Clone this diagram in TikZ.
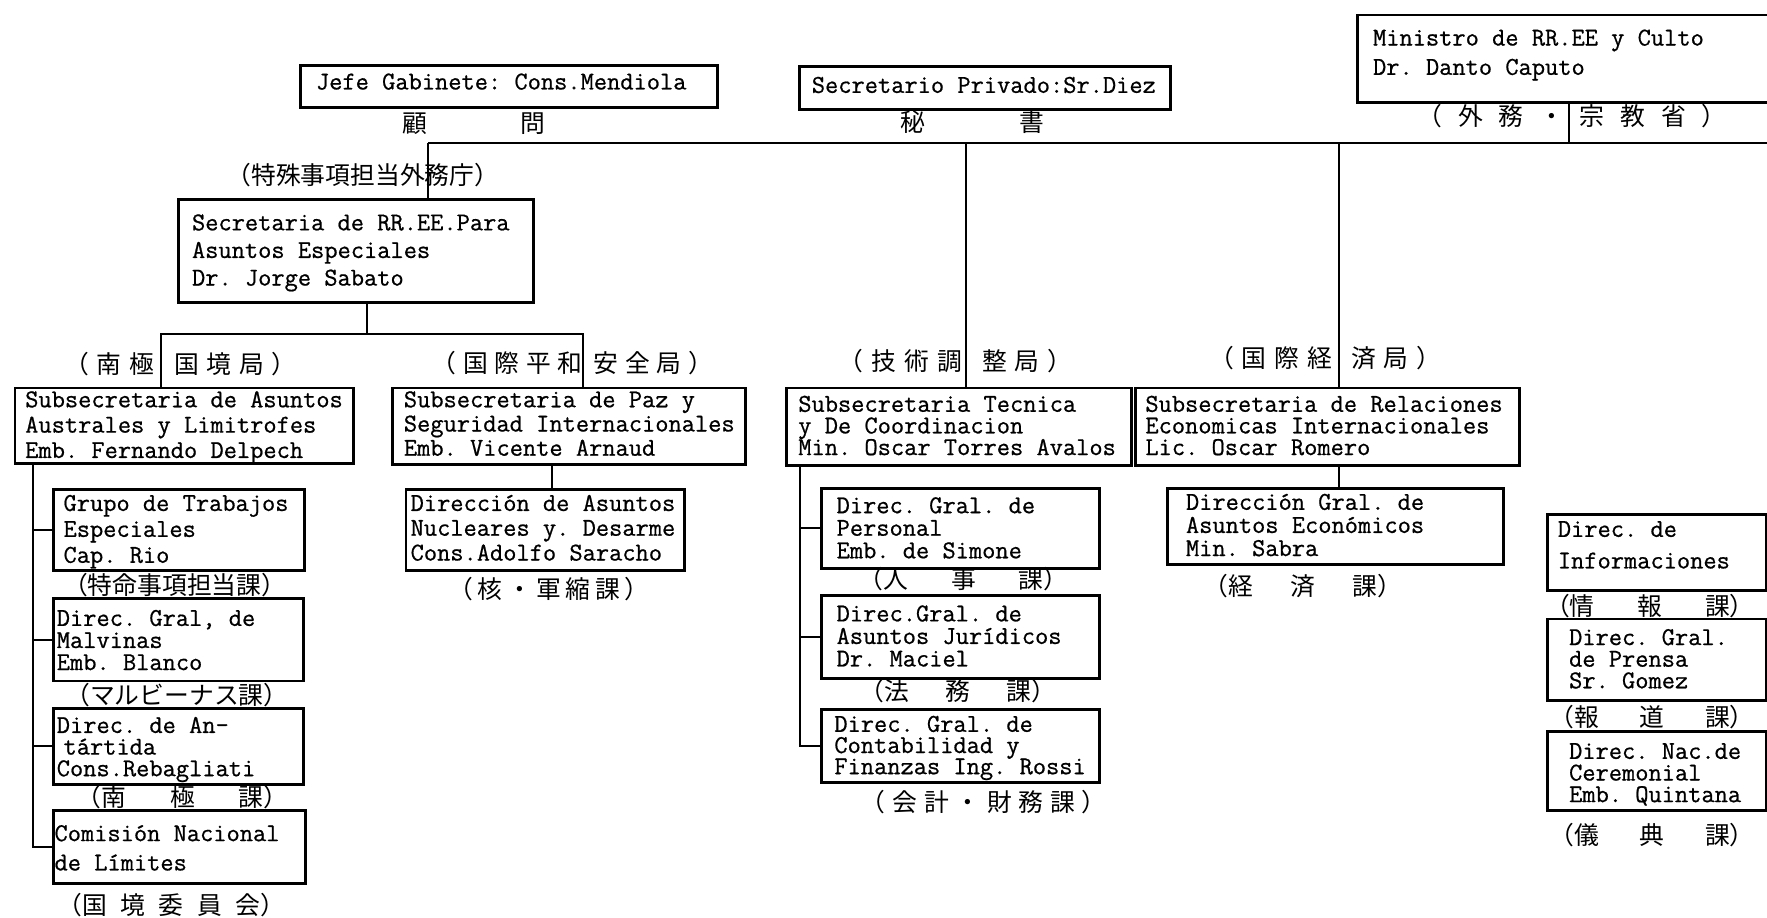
\documentclass[tikz,border=0pt]{standalone}
\usepackage{fontspec}
\newfontfamily\cjk{Noto Sans CJK JP}
\newfontfamily\tw[FakeBold=0.7]{Latin Modern Mono}
\newcommand\jgap[1]{\hspace{#1pt}}
\newcommand\fstrut{\rule{0pt}{8pt}}
\tikzset{
  bx/.style={draw, line width=1.3pt, rectangle, inner sep=0pt, anchor=north west},
  tx/.style={anchor=north west, inner sep=0pt, align=left,
    font=\tw\frenchspacing\fontsize{11.4}{#1}\selectfont},
  jp/.style={inner sep=0pt, font=\cjk\fontsize{11}{13}\selectfont},
  ln/.style={line width=0.9pt},
}
\begin{document}
\lineskiplimit=-100pt
\frenchspacing
\begin{tikzpicture}[x=0.5pt,y=-0.5pt]
\fill[white] (0,0) rectangle (1568,814);
\clip (0,0) rectangle (1568,814);
% ---------- boxes ----------
\node[bx, minimum width=185pt, minimum height=18.5pt] (jefe) at (265,57) {};
\node[bx, minimum width=164.5pt, minimum height=19pt] (secr) at (708,58) {};
\node[bx, minimum width=200pt, minimum height=39pt] (min) at (1203,12) {};
\node[bx, minimum width=157.5pt, minimum height=45.5pt] (sab) at (157,176) {};
\node[bx, minimum width=150pt, minimum height=33.5pt] (aus) at (12,343) {};
\node[bx, minimum width=156.5pt, minimum height=34pt] (paz) at (347,343) {};
\node[bx, minimum width=153pt, minimum height=34.5pt] (tec) at (697,343) {};
\node[bx, minimum width=170.5pt, minimum height=34.5pt] (eco) at (1006,343) {};
\node[bx, minimum width=111.5pt, minimum height=36pt] (grupo) at (46,433) {};
\node[bx, minimum width=111pt, minimum height=36.5pt] (malv) at (46,530) {};
\node[bx, minimum width=111pt, minimum height=34pt] (anta) at (46,627) {};
\node[bx, minimum width=112pt, minimum height=32.5pt] (comi) at (46,718) {};
\node[bx, minimum width=123.5pt, minimum height=36pt] (desa) at (359,433) {};
\node[bx, minimum width=123pt, minimum height=35.5pt] (pers) at (728,432) {};
\node[bx, minimum width=123pt, minimum height=37pt] (juri) at (728,527) {};
\node[bx, minimum width=123pt, minimum height=32.5pt] (cont) at (728,628) {};
\node[bx, minimum width=149pt, minimum height=34pt] (econ) at (1035,432) {};
\node[bx, minimum width=97pt, minimum height=34pt] (info) at (1372,455) {};
\node[bx, minimum width=97pt, minimum height=36pt] (pren) at (1372,548) {};
\node[bx, minimum width=97pt, minimum height=35pt] (cere) at (1372,648) {};
% ---------- box texts ----------
\node[tx=11] (jefeT) at (280,63) {\fstrut Jefe Gabinete: Cons.Mendiola};
\node[tx=11] (secrT) at (720,66) {\fstrut Secretario Privado:Sr.Diez};
\node[tx=13] (minT) at (1218,24) {\fstrut Ministro de RR.EE y Culto\\Dr. Danto Caputo};
\node[tx=12.25] (sabT) at (170,188) {\fstrut Secretaria de RR.EE.Para\\Asuntos Especiales\\Dr. Jorge Sabato};
\node[tx=11.25] (ausT) at (22,345) {\fstrut Subsecretaria de Asuntos\\Australes y Limitrofes\\Emb. Fernando Delpech};
\node[tx=10.75] (pazT) at (358,345) {\fstrut Subsecretaria de Paz y\\Seguridad Internacionales\\Emb. Vicente Arnaud};
\node[tx=9.6] (tecT) at (708,349) {\fstrut Subsecretaria Tecnica\\y De Coordinacion\\Min. Oscar Torres Avalos};
\node[tx=9.6] (ecoT) at (1016,349) {\fstrut Subsecretaria de Relaciones\\Economicas Internacionales\\Lic. Oscar Romero};
\node[tx=11.5] (grupoT) at (56,437) {\fstrut Grupo de Trabajos\\Especiales\\Cap. Rio};
\node[tx=9.8] (malvT) at (50,539) {\fstrut Direc. Gral, de\\Malvinas\\Emb. Blanco};
\node[tx=9.6] (antaT) at (50,634) {\fstrut Direc. de An-\\\hspace*{3pt}tártida\\Cons.Rebagliati};
\node[tx=13] (comiT) at (48,730) {\fstrut Comisión Nacional\\de Límites};
\node[tx=11] (desaT) at (364,437) {\fstrut Dirección de Asuntos\\Nucleares y. Desarme\\Cons.Adolfo Saracho};
\node[tx=10] (persT) at (742,439) {\fstrut Direc. Gral. de\\Personal\\Emb. de Simone};
\node[tx=10] (juriT) at (742,535) {\fstrut Direc.Gral. de\\Asuntos Jurídicos\\Dr. Maciel};
\node[tx=9.4] (contT) at (740,633) {\fstrut Direc. Gral. de\\Contabilidad y\\Finanzas Ing. Rossi};
\node[tx=10.25] (econT) at (1052,436) {\fstrut Dirección Gral. de\\Asuntos Económicos\\Min. Sabra};
\node[tx=14] (infoT) at (1382,460) {\fstrut Direc. de\\Informaciones};
\node[tx=9.6] (prenT) at (1392,556) {\fstrut Direc. Gral.\\de Prensa\\Sr. Gomez};
\node[tx=9.6] (cereT) at (1392,657) {\fstrut Direc. Nac.de\\Ceremonial\\Emb. Quintana};
% ---------- Japanese labels ----------
\node[jp] (l1) at (420.5,110) {顧\jgap{41.5}問};
\node[jp] (l2) at (863,108) {秘\jgap{42}書};
\node[jp] (l3) at (1395,103) {（\jgap{7}外\jgap{7}務\jgap{7}・\jgap{7}宗\jgap{7}教\jgap{7}省\jgap{7}）};
\node[jp] (l4) at (322,155) {（特殊事項担当外務庁）};
\node[jp] (l5) at (160,323) {（\jgap{3}南\jgap{3.5}極\jgap{9}国\jgap{3.5}境\jgap{3.5}局\jgap{3}）};
\node[jp] (l6) at (508,322) {（\jgap{3}国\jgap{3}際\jgap{3}平\jgap{3}和\jgap{5}安\jgap{3}全\jgap{3}局\jgap{3}）};
\node[jp] (l7) at (848,320) {（\jgap{3.5}技\jgap{3.5}術\jgap{3.5}調\jgap{9}整\jgap{3.5}局\jgap{3.5}）};
\node[jp] (l8) at (1176,318) {（\jgap{3.5}国\jgap{3.5}際\jgap{3.5}経\jgap{8.5}済\jgap{3.5}局\jgap{3.5}）};
\node[jp] (l9) at (155,519) {（特命事項担当課）};
\node[jp] (l10) at (157,617) {（マルビーナス課）};
\node[jp] (l11) at (162,707) {（南\jgap{19.5}極\jgap{19.5}課）};
\node[jp] (l12) at (152,803) {（国\jgap{6}境\jgap{6}委\jgap{6}員\jgap{6}会）};
\node[jp] (l13) at (487,523) {（\jgap{2}核\jgap{2}・\jgap{2}軍\jgap{2}縮\jgap{2}課\jgap{2}）};
\node[jp] (l14) at (855,514) {（人\jgap{19}事\jgap{19}課）};
\node[jp] (l15) at (850,613) {（法\jgap{16}務\jgap{16}課）};
\node[jp] (l16) at (873,712) {（\jgap{3}会\jgap{3}計\jgap{3}・\jgap{3}財\jgap{3}務\jgap{3}課\jgap{3}）};
\node[jp] (l17) at (1156,520) {（経\jgap{16.5}済\jgap{16.5}課）};
\node[jp] (l18) at (1464,538) {（情\jgap{19}報\jgap{19}課）};
\node[jp] (l19) at (1466,636) {（報\jgap{18}道\jgap{18}課）};
\node[jp] (l20) at (1466,741) {（儀\jgap{18}典\jgap{18}課）};
% ---------- connectors ----------
\coordinate (busL) at (380,127);
\coordinate (busR) at (1580,127);
\draw[ln] (busL) -- (busR);
\coordinate (mtap) at (1392,127);
\draw[ln] (mtap) -- (mtap |- min.south);
\draw[ln] (busL) -- (busL |- sab.north);
\coordinate (ttap) at (857,127);
\draw[ln] (ttap) -- (ttap |- tec.north);
\coordinate (etap) at (1188,127);
\draw[ln] (etap) -- (etap |- eco.north);
\coordinate (sdrop) at (326,296);
\coordinate (sbL) at (143,296);
\coordinate (sbR) at (517,296);
\draw[ln] (sdrop |- sab.south) -- (sdrop);
\draw[ln] (sbL |- aus.north) -- (sbL) -- (sbR) -- (sbR |- paz.north);
\coordinate (asp) at (29,0);
\draw[ln] (asp |- aus.south) |- (comi.west);
\foreach \n in {grupo,malv,anta} \draw[ln] (asp |- \n.west) -- (\n.west);
\coordinate (pd) at (490,0);
\draw[ln] (pd |- paz.south) -- (pd |- desa.north);
\coordinate (tsp) at (710,0);
\draw[ln] (tsp |- tec.south) |- (cont.west);
\foreach \n in {pers,juri} \draw[ln] (tsp |- \n.west) -- (\n.west);
\draw[ln] (etap |- eco.south) -- (etap |- econ.north);
\end{tikzpicture}
\end{document}
